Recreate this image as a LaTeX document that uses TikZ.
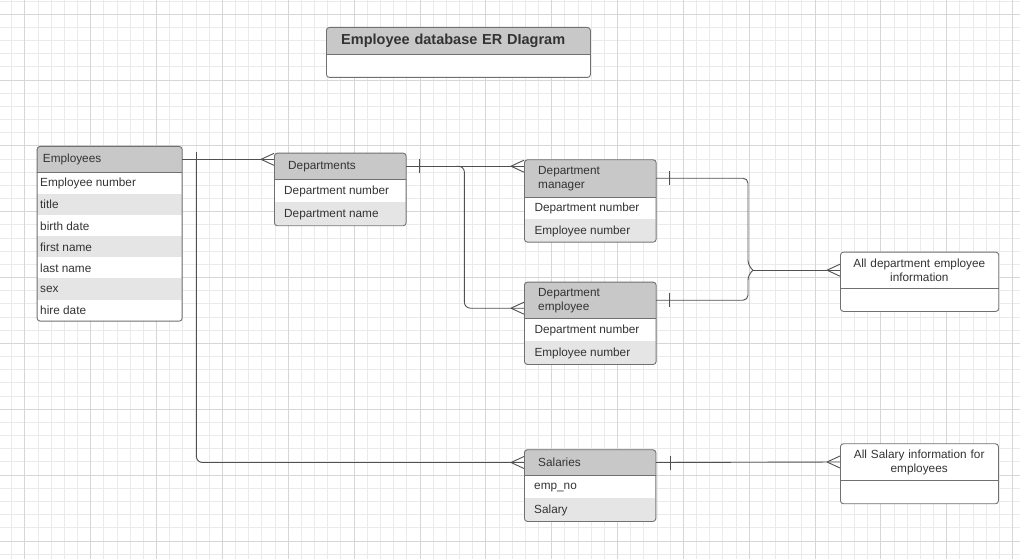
\documentclass[tikz,border=0pt]{standalone}
\usepackage{fontspec}
\setmainfont{Liberation Sans}
\definecolor{hdrgray}{HTML}{C8C8C8}
\definecolor{rowgray}{HTML}{E5E5E5}
\definecolor{framec}{HTML}{707070}
\definecolor{linec}{HTML}{505050}
\definecolor{txt}{HTML}{333333}
\definecolor{gridminor}{HTML}{EAEAEA}
\definecolor{gridmajor}{HTML}{D6D6D6}
\tikzset{
  frame/.style={draw=framec, line width=0.9pt, rounded corners=3pt, inner sep=0pt, anchor=north west},
  hdr/.style={inner ysep=0pt, anchor=north west, align=left},
  rowtxt/.style={anchor=west, inner sep=0pt},
  conn/.style={draw=linec, line width=0.9pt},
  divline/.style={draw=framec, line width=0.9pt}
}
\newcommand{\crowfoot}[1]{\draw[conn] ([xshift=-13pt]#1) -- ([yshift=6pt]#1) ([xshift=-13pt]#1) -- ([yshift=-6pt]#1);}
\newcommand{\onetick}[2]{\draw[conn] ([xshift=#2pt,yshift=7pt]#1) -- ([xshift=#2pt,yshift=-7pt]#1);}
\begin{document}
\begin{tikzpicture}[x=1pt, y=-1pt, font=\fontsize{11.8}{14}\selectfont, text=txt]
\useasboundingbox (0,0) rectangle (1020,559);
\fill[white] (0,0) rectangle (1020,559);
% grid
\foreach \i in {-1,...,75} \draw[gridminor, line width=0.6pt] ({24.7+13.17*\i},0) -- ({24.7+13.17*\i},559);
\foreach \j in {-1,...,41} \draw[gridminor, line width=0.6pt] (0,{14+13.17*\j}) -- (1020,{14+13.17*\j});
\foreach \i in {0,...,15} \draw[gridmajor, line width=0.6pt] ({24.7+65.85*\i},0) -- ({24.7+65.85*\i},559);
\foreach \j in {0,...,8} \draw[gridmajor, line width=0.6pt] (0,{14+65.85*\j}) -- (1020,{14+65.85*\j});

% ---------- Title ----------
\begin{scope}
\clip[rounded corners=3pt] (326,27) rectangle (590,77);
\fill[white] (326,27) rectangle (590,77);
\fill[hdrgray] (326,27) rectangle (590,54);
\end{scope}
\node[frame, minimum width=264pt, minimum height=50pt] (title) at (326,27) {};
\node[hdr, inner xsep=15pt, text width=234pt, minimum height=27pt, font=\fontsize{14.5}{17}\selectfont\bfseries] (titleh) at (326,27) {Employee database ER DIagram};
\draw[divline] (titleh.south west) -- (titleh.south east);

% ---------- Employees ----------
\begin{scope}
\clip[rounded corners=3pt] (36.7,146) rectangle (181.7,320.7);
\fill[white] (36.7,146) rectangle (181.7,320.7);
\fill[hdrgray] (36.7,146) rectangle (181.7,172.3);
\fill[rowgray] (36.7,193.5) rectangle (181.7,214.7);
\fill[rowgray] (36.7,235.9) rectangle (181.7,257.1);
\fill[rowgray] (36.7,278.3) rectangle (181.7,299.5);
\end{scope}
\node[frame, minimum width=145pt, minimum height=174.7pt] (emp) at (36.7,146) {};
\node[hdr, inner xsep=6pt, text width=133pt, minimum height=26.3pt] (emph) at (36.7,146) {Employees};
\draw[divline] (emph.south west) -- (emph.south east);
\node[rowtxt] (e1) at (40,183.4) {Employee number};
\node[rowtxt] (e2) at (40,204.6) {title};
\node[rowtxt] (e3) at (40,225.8) {birth date};
\node[rowtxt] (e4) at (40,247.0) {first name};
\node[rowtxt] (e5) at (40,268.2) {last name};
\node[rowtxt] (e6) at (40,289.4) {sex};
\node[rowtxt] (e7) at (40,310.6) {hire date};

% ---------- Departments ----------
\begin{scope}
\clip[rounded corners=3pt] (274,152.7) rectangle (405.7,225.3);
\fill[white] (274,152.7) rectangle (405.7,225.3);
\fill[hdrgray] (274,152.7) rectangle (405.7,179.3);
\fill[rowgray] (274,202.3) rectangle (405.7,225.3);
\end{scope}
\node[frame, minimum width=131.7pt, minimum height=72.6pt] (dep) at (274,152.7) {};
\node[hdr, inner xsep=14pt, text width=103.7pt, minimum height=26.6pt] (deph) at (274,152.7) {Departments};
\draw[divline] (deph.south west) -- (deph.south east);
\node[rowtxt] (d1) at (284,191.7) {Department number};
\node[rowtxt] (d2) at (284,214.4) {Department name};

% ---------- Department manager ----------
\begin{scope}
\clip[rounded corners=3pt] (524,159.3) rectangle (655.7,241.7);
\fill[white] (524,159.3) rectangle (655.7,241.7);
\fill[hdrgray] (524,159.3) rectangle (655.7,196.7);
\fill[rowgray] (524,219.2) rectangle (655.7,241.7);
\end{scope}
\node[frame, minimum width=131.7pt, minimum height=82.4pt] (dm) at (524,159.3) {};
\node[hdr, inner xsep=14pt, text width=103.7pt, minimum height=37.4pt] (dmh) at (524,159.3) {Department\\manager};
\draw[divline] (dmh.south west) -- (dmh.south east);
\node[rowtxt] (m1) at (534.3,208.6) {Department number};
\node[rowtxt] (m2) at (534.3,231.4) {Employee number};

% ---------- Department employee ----------
\begin{scope}
\clip[rounded corners=3pt] (524,281.7) rectangle (655.7,364);
\fill[white] (524,281.7) rectangle (655.7,364);
\fill[hdrgray] (524,281.7) rectangle (655.7,318.3);
\fill[rowgray] (524,341.2) rectangle (655.7,364);
\end{scope}
\node[frame, minimum width=131.7pt, minimum height=82.3pt] (de) at (524,281.7) {};
\node[hdr, inner xsep=14pt, text width=103.7pt, minimum height=36.6pt] (deh) at (524,281.7) {Department\\employee};
\draw[divline] (deh.south west) -- (deh.south east);
\node[rowtxt] (p1) at (534.3,330.4) {Department number};
\node[rowtxt] (p2) at (534.3,353.3) {Employee number};

% ---------- Salaries ----------
\begin{scope}
\clip[rounded corners=3pt] (524,449.3) rectangle (655.4,521);
\fill[white] (524,449.3) rectangle (655.4,521);
\fill[hdrgray] (524,449.3) rectangle (655.4,475.3);
\fill[rowgray] (524,498.2) rectangle (655.4,521);
\end{scope}
\node[frame, minimum width=131.4pt, minimum height=71.7pt] (sal) at (524,449.3) {};
\node[hdr, inner xsep=14pt, text width=103.4pt, minimum height=26pt] (salh) at (524,449.3) {Salaries};
\draw[divline] (salh.south west) -- (salh.south east);
\node[rowtxt] (s1) at (534,487.8) {emp\_no};
\node[rowtxt] (s2) at (534,510.6) {Salary};

% ---------- All department employee information ----------
\node[frame, fill=white, minimum width=158.3pt, minimum height=59.3pt] (adei) at (840,251.7) {};
\node[hdr, inner xsep=4pt, text width=150.3pt, minimum height=36.6pt, align=center] (adeih) at (840,251.7) {All department employee\\information};
\draw[divline] (adeih.south west) -- (adeih.south east);

% ---------- All Salary information ----------
\node[frame, fill=white, minimum width=158pt, minimum height=60pt] (asi) at (840,443.3) {};
\node[hdr, inner xsep=4pt, text width=150pt, minimum height=37pt, align=center] (asih) at (840,443.3) {All Salary information for\\employees};
\draw[divline] (asih.south west) -- (asih.south east);

% ---------- Connectors ----------
\coordinate (cfdep) at (deph.west |- emph.east);
\coordinate (ex) at ([xshift=14.3pt]emph.east);
\draw[conn] (emph.east) -- (cfdep);
\onetick{emph.east}{14.3}
\crowfoot{cfdep}

\draw[conn, rounded corners=6pt] (ex) |- (salh.west);
\crowfoot{salh.west}

\coordinate (cfdm) at (dmh.west |- deph.east);
\draw[conn] (deph.east) -- (cfdm);
\onetick{deph.east}{13.3}
\crowfoot{cfdm}

\coordinate (dx) at ([xshift=58.3pt]deph.east);
\coordinate (cfde) at ([yshift=-8pt]deh.west);
\draw[conn, rounded corners=6pt] ([xshift=-8pt]dx) -- (dx) |- (cfde);
\crowfoot{cfde}

\coordinate (brk) at ([xshift=-87pt]adeih.west);
\coordinate (bx) at ([xshift=-5pt]brk);
\draw[conn, rounded corners=5pt] (dmh.east) -- (dmh.east -| bx) -- ([yshift=5pt]bx) -- (brk);
\draw[conn, rounded corners=5pt] (deh.east) -- (deh.east -| bx) -- ([yshift=-5pt]bx) -- (brk);
\draw[conn] (brk) -- (adeih.west);
\onetick{dmh.east}{13.6}
\onetick{deh.east}{13.6}
\crowfoot{adeih.west}

\draw[conn] (salh.east) -- (asih.west);
\onetick{salh.east}{14.3}
\crowfoot{asih.west}
\end{tikzpicture}
\end{document}
